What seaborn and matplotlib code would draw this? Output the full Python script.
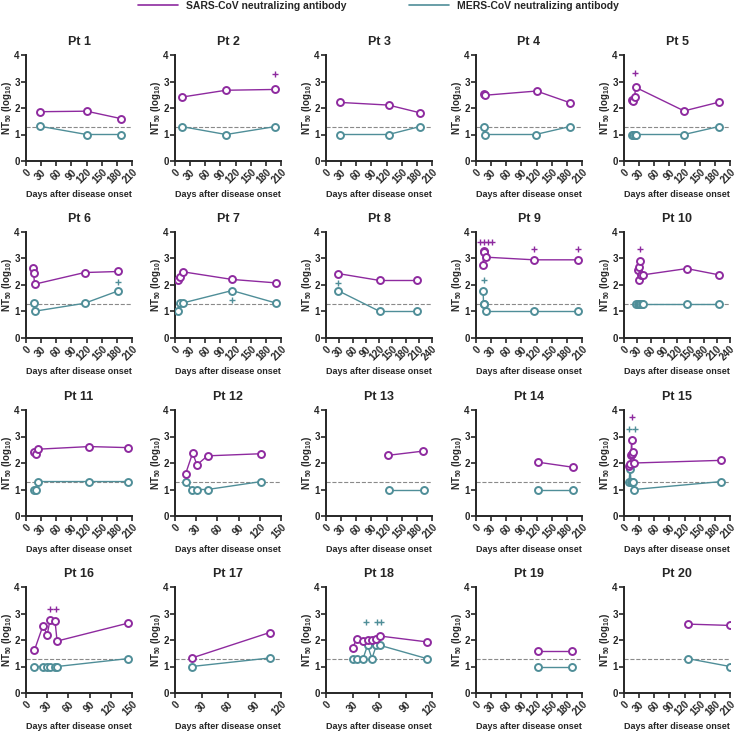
import matplotlib
matplotlib.use("Agg")
import matplotlib.pyplot as plt
from matplotlib.lines import Line2D
import seaborn as sns

# patient panels, x-axis range and cut-off
patients = [f"Pt {i}" for i in range(1, 21)]
x_max = [210, 210, 210, 210, 210, 210, 210, 240, 210, 240,
         210, 150, 210, 210, 210, 150, 120, 120, 210, 210]
cutoff = 1.3

# SARS-CoV neutralizing antibody (log10 NT50)
sars_days = [
    [28, 120, 188], [13, 101, 199], [28, 124, 186], [15, 17, 120, 186],
    [15, 18, 21, 23, 119, 188],
    [14, 15, 17, 116, 183], [6, 9, 15, 113, 200], [28, 122, 207],
    [14, 15, 16, 20, 115, 203], [31, 34, 35, 37, 39, 42, 142, 216],
    [16, 20, 23, 125, 203], [15, 25, 31, 46, 122], [123, 193], [123, 192],
    [10, 12, 14, 15, 16, 18, 20, 193],
    [12, 24, 30, 34, 41, 44, 145], [19, 107], [30, 35, 42, 47, 52, 57, 61, 114],
    [122, 190], [126, 210],
]
sars_vals = [
    [1.86, 1.88, 1.60], [2.41, 2.67, 2.70], [2.21, 2.11, 1.82], [2.52, 2.48, 2.64, 2.20],
    [2.30, 2.27, 2.42, 2.78, 1.89, 2.22],
    [2.66, 2.47, 2.03, 2.47, 2.51], [2.17, 2.30, 2.50, 2.21, 2.08], [2.43, 2.17, 2.17],
    [2.75, 3.27, 3.25, 3.05, 2.95, 2.95], [2.56, 2.67, 2.19, 2.91, 2.38, 2.38, 2.62, 2.38],
    [2.41, 2.33, 2.52, 2.62, 2.58], [1.59, 2.38, 1.93, 2.27, 2.35], [2.29, 2.45], [2.03, 1.84],
    [1.88, 1.95, 2.30, 2.86, 2.35, 2.40, 2.00, 2.10],
    [1.62, 2.54, 2.20, 2.75, 2.73, 1.96, 2.64], [1.32, 2.28],
    [1.70, 2.05, 1.95, 2.00, 2.00, 2.05, 2.15, 1.93],
    [1.58, 1.58], [2.60, 2.55],
]

# MERS-CoV neutralizing antibody (log10 NT50)
mers_days = [
    [28, 120, 188], [13, 101, 199], [28, 124, 186], [15, 18, 118, 186],
    [15, 18, 21, 23, 119, 188],
    [15, 17, 116, 183], [6, 9, 15, 113, 200], [28, 122, 207],
    [14, 15, 16, 20, 115, 203], [28, 31, 34, 37, 40, 43, 142, 216],
    [16, 20, 23, 125, 203], [15, 24, 31, 46, 122], [124, 194], [123, 193],
    [10, 12, 14, 16, 18, 20, 193],
    [12, 24, 30, 34, 41, 44, 145], [19, 107], [30, 35, 42, 47, 52, 57, 61, 114],
    [122, 190], [126, 210],
]
mers_vals = [
    [1.31, 1.0, 1.0], [1.30, 1.0, 1.30], [1.0, 1.0, 1.30], [1.30, 1.0, 1.0, 1.30],
    [1.0, 1.0, 1.0, 1.0, 1.0, 1.30],
    [1.31, 1.01, 1.31, 1.78], [1.03, 1.32, 1.32, 1.79, 1.32], [1.78, 1.0, 1.0],
    [1.78, 1.30, 1.30, 1.0, 1.0, 1.0], [1.30, 1.30, 1.30, 1.30, 1.30, 1.30, 1.30, 1.30],
    [1.0, 1.0, 1.30, 1.30, 1.30], [1.30, 1.0, 1.0, 1.0, 1.30], [1.0, 1.0], [1.0, 1.0],
    [1.30, 1.78, 1.30, 1.30, 1.30, 1.0, 1.30],
    [1.0, 1.0, 1.0, 1.0, 1.0, 1.0, 1.30], [1.0, 1.32],
    [1.30, 1.30, 1.30, 1.80, 1.30, 1.80, 1.80, 1.30],
    [1.0, 1.0], [1.30, 1.0],
]

# "+" marks above the curves
sars_plus_days = [[], [199], [], [], [21], [], [], [], [7, 15, 24, 32, 115, 203], [37],
                  [], [], [], [], [16], [34, 43], [], [], [], []]
sars_plus_vals = [[], [3.27], [], [], [3.33], [], [], [], [3.64, 3.64, 3.64, 3.64, 3.35, 3.35], [3.35],
                  [], [], [], [], [3.72], [3.17, 3.17], [], [], [], []]
mers_plus_days = [[], [], [], [], [], [183], [113], [28], [15], [],
                  [], [], [], [], [10, 22], [], [], [45, 58, 62], [], []]
mers_plus_vals = [[], [], [], [], [], [2.12], [1.45], [2.09], [2.17], [],
                  [], [], [], [], [3.30, 3.30], [], [], [2.68, 2.68, 2.68], [], []]

SARS_COLOR = "#8e2a9f"
MERS_COLOR = "#4f8e98"

sns.set_style("ticks")
plt.rcParams["font.family"] = ["Liberation Sans", "DejaVu Sans"]
plt.rcParams["font.weight"] = "bold"
plt.rcParams["mathtext.fontset"] = "custom"
plt.rcParams["mathtext.rm"] = "Liberation Sans:bold"
plt.rcParams["mathtext.bf"] = "Liberation Sans:bold"
plt.rcParams["mathtext.default"] = "bf"

W, H = 739, 732
fig = plt.figure(figsize=(W / 100, H / 100), dpi=100)

lefts = [26, 175, 326, 476, 624]
tops = [55, 232, 410, 587]
aw, ah = 106, 106


def draw_series(ax, days, vals, color):
    sns.lineplot(x=days, y=vals, ax=ax, color=color, linewidth=1.0,
                 marker="o", markersize=5, markerfacecolor="white",
                 markeredgecolor=color, markeredgewidth=1.4,
                 estimator=None, sort=False, zorder=3)


for i, name in enumerate(patients):
    r, c = divmod(i, 5)
    ax = fig.add_axes([lefts[c] / W, 1 - (tops[r] + ah) / H, aw / W, ah / H])

    ax.axhline(cutoff, color="#8a8a8a", linestyle="--", linewidth=0.8, zorder=1)
    draw_series(ax, mers_days[i], mers_vals[i], MERS_COLOR)
    draw_series(ax, sars_days[i], sars_vals[i], SARS_COLOR)
    if sars_plus_days[i]:
        sns.scatterplot(x=sars_plus_days[i], y=sars_plus_vals[i], ax=ax, marker="+",
                        color=SARS_COLOR, s=14, linewidth=1.0, zorder=4)
    if mers_plus_days[i]:
        sns.scatterplot(x=mers_plus_days[i], y=mers_plus_vals[i], ax=ax, marker="+",
                        color=MERS_COLOR, s=14, linewidth=1.0, zorder=4)

    ax.set_xlim(0, x_max[i])
    ax.set_ylim(0, 4)
    ax.set_xticks(range(0, x_max[i] + 1, 30))
    ax.set_yticks([0, 1, 2, 3, 4])
    ax.tick_params(axis="both", labelsize=7, width=1.2, length=3.5, pad=1)
    for lab in ax.get_xticklabels():
        lab.set_rotation(45)
        lab.set_ha("right")
        lab.set_va("top")
        lab.set_rotation_mode("anchor")
        lab.set_fontweight("bold")
    for lab in ax.get_yticklabels():
        lab.set_fontweight("bold")
    for s in ["left", "bottom"]:
        ax.spines[s].set_linewidth(1.4)
    sns.despine(ax=ax)
    ax.set_title(name, fontsize=9, fontweight="bold", pad=7)
    ax.set_xlabel("Days after disease onset", fontsize=6.5, fontweight="bold", labelpad=3)
    ax.set_ylabel(r"NT$_{50}$ (log$_{10}$)", fontsize=7, fontweight="bold", labelpad=0.5)

handles = [Line2D([], [], color=SARS_COLOR, lw=1.2),
           Line2D([], [], color=MERS_COLOR, lw=1.2)]
fig.legend(handles, ["SARS-CoV neutralizing antibody", "MERS-CoV neutralizing antibody"],
           loc="upper center", bbox_to_anchor=(0.512, 1.012), ncol=2, frameon=False,
           prop={"size": 7.5, "weight": "bold"}, handlelength=3.8, columnspacing=6)

fig.savefig("out.png", dpi=100)
